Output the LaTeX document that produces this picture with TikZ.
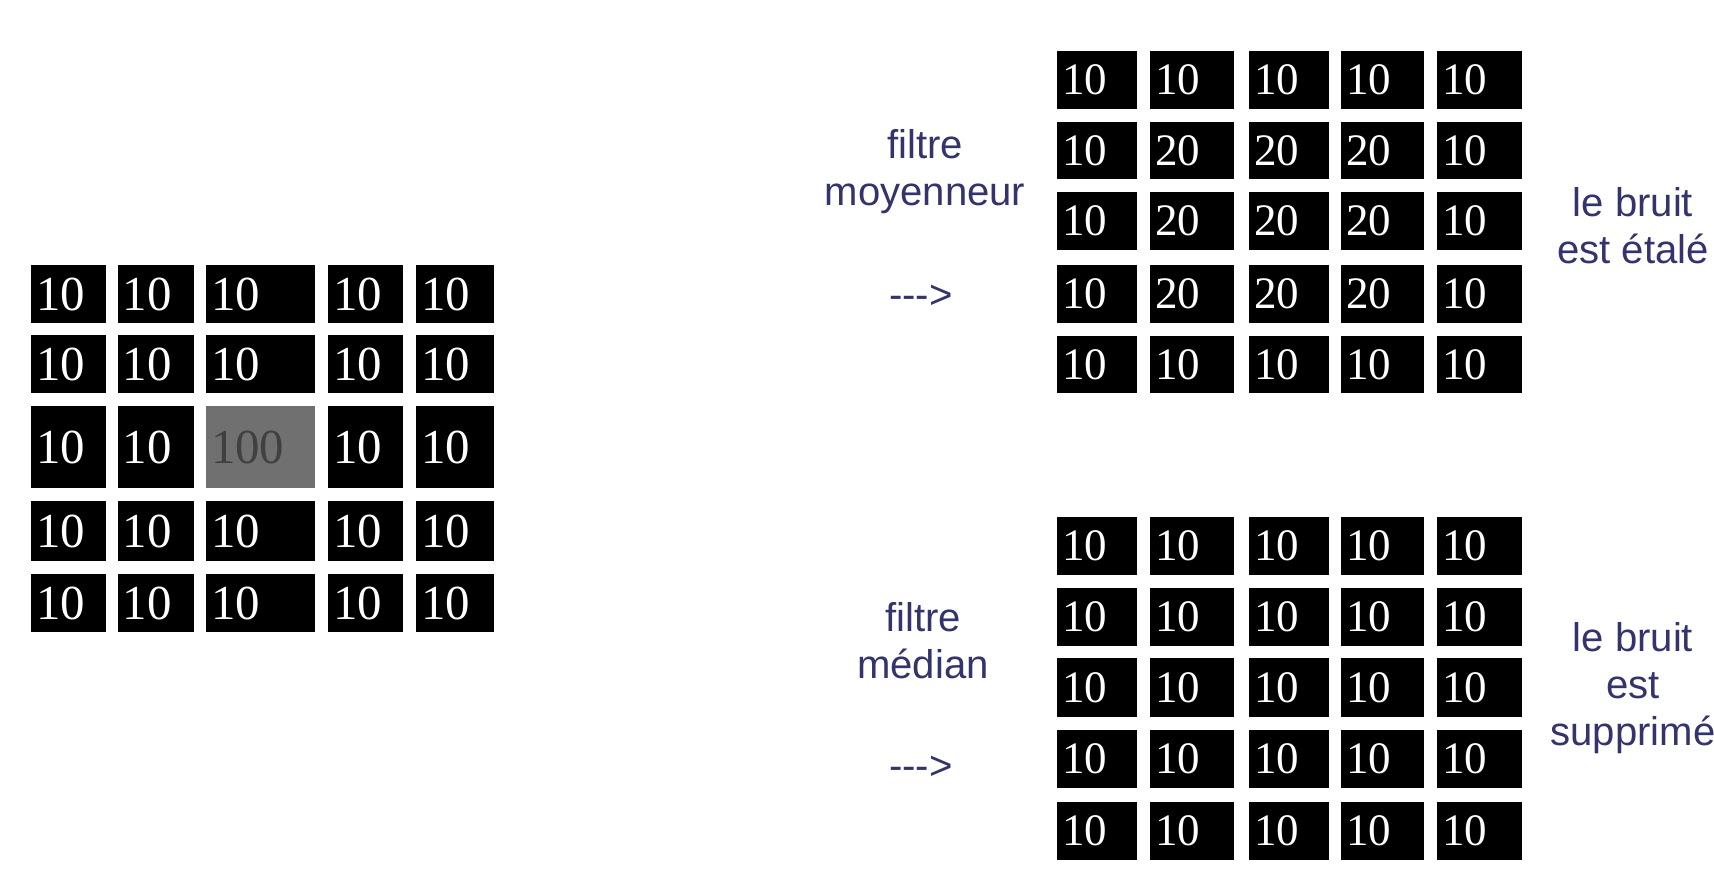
\documentclass[tikz,border=0pt]{standalone}
\usepackage{fontspec}
\setmainfont{Liberation Serif}
\newfontfamily\labelfont{Liberation Sans}
\definecolor{navy}{RGB}{52,52,108}
\definecolor{noise}{RGB}{112,112,112}
\tikzset{
  cell/.style={fill=black, text=white, inner xsep=0.05cm, inner ysep=0pt, align=left},
  note/.style={text=navy, font=\labelfont\fontsize{11.4}{13.4}\selectfont, align=center, inner sep=0pt}
}
\begin{document}
\begin{tikzpicture}[x=0.01cm, y=-0.01cm]
  \useasboundingbox[fill=white] (0,0) rectangle (1714,874);

  % image bruitee (pixel central = 100)
  \foreach \xa/\xb [count=\i] in {31/106, 118/194, 206/315, 328/403, 416/494}{
    \foreach \ya/\yb [count=\j] in {265/323, 335/393, 406/488, 501/561, 574/632}{
      \ifnum\i\j=33 \def\shade{noise}\def\ink{black!75}\def\val{100}%
      \else \def\shade{black}\def\ink{white}\def\val{10}\fi
      \node[cell, fill=\shade, text=\ink, font=\fontsize{13.9}{14}\selectfont,
            minimum height={(\yb-\ya)*0.01cm}, text width={(\xb-\xa-10)*0.01cm}]
        (in-\i-\j) at ({(\xa+\xb)/2},{(\ya+\yb)/2}) {\val};
    }
  }

  % filtre moyenneur
  \foreach \xa/\xb [count=\i] in {1057/1137, 1150/1234, 1249/1329, 1341/1424, 1437/1522}{
    \foreach \ya/\yb [count=\j] in {51/109, 122/179, 192/250, 265/323, 336/393}{
      \pgfmathtruncatemacro\val{(\i>1)*(\i<5)*(\j>1)*(\j<5)*10+10}
      \node[cell, font=\fontsize{12.8}{13}\selectfont,
            minimum height={(\yb-\ya)*0.01cm}, text width={(\xb-\xa-10)*0.01cm}]
        (moy-\i-\j) at ({(\xa+\xb)/2},{(\ya+\yb)/2}) {\val};
    }
  }

  % filtre median
  \foreach \xa/\xb [count=\i] in {1057/1137, 1150/1234, 1249/1329, 1341/1424, 1437/1522}{
    \foreach \ya/\yb [count=\j] in {517/575, 588/646, 658/717, 730/788, 802/860}{
      \node[cell, font=\fontsize{12.8}{13}\selectfont,
            minimum height={(\yb-\ya)*0.01cm}, text width={(\xb-\xa-10)*0.01cm}]
        (med-\i-\j) at ({(\xa+\xb)/2},{(\ya+\yb)/2}) {10};
    }
  }

  % textes
  \node[note] (moy-name) at (925,172) {filtre\\moyenneur};
  \node[note] (moy-arrow) at (921,297) {{-}{-}{-}>};
  \node[note] (moy-result) at (1633,226) {le bruit\\est étalé};

  \node[note] (med-name) at (923,641) {filtre\\médian};
  \node[note] (med-arrow) at (921,768) {{-}{-}{-}>};
  \node[note] (med-result) at (1633,688) {le bruit\\est\\supprimé};
\end{tikzpicture}
\end{document}
